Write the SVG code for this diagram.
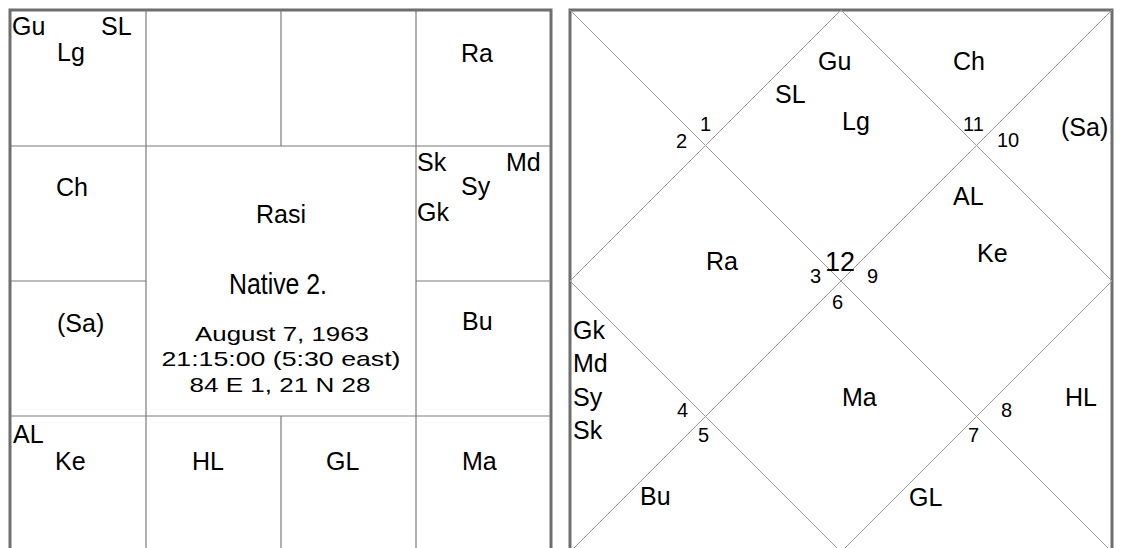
<svg xmlns="http://www.w3.org/2000/svg" width="1122" height="548" viewBox="0 0 1122 548">
<style>
.bg{fill:#ffffff}
.border{fill:none;stroke:#6e6e6e;stroke-width:3}
.grid{stroke:#7a7a7a;stroke-width:1.2;fill:none}
.diag{stroke:#9a9a9a;stroke-width:1;fill:none}
.lbl{font-family:"Liberation Sans",Arial,sans-serif;font-size:25px;fill:#000}
.num{font-family:"Liberation Sans",Arial,sans-serif;font-size:20px;fill:#000}
.big{font-family:"Liberation Sans",Arial,sans-serif;font-size:27px;fill:#000}
.title{font-family:"Liberation Sans",Arial,sans-serif;font-size:25px;fill:#000;text-anchor:middle}
.native{font-family:"Liberation Sans",Arial,sans-serif;font-size:29px;fill:#000;text-anchor:middle}
.info{font-family:"Liberation Sans",Arial,sans-serif;font-size:21px;fill:#000;text-anchor:middle}
</style>
<rect class="bg" x="0" y="0" width="1122" height="548"/>

<!-- Left chart: Rasi (South Indian style) -->
<g id="rasi-chart">
  <g id="rasi-lines">
    <rect class="border" x="10" y="10" width="541" height="542"/>
    <line class="grid" x1="146" y1="10" x2="146" y2="552"/>
    <line class="grid" x1="416" y1="10" x2="416" y2="552"/>
    <line class="grid" x1="281" y1="10" x2="281" y2="146"/>
    <line class="grid" x1="281" y1="416" x2="281" y2="552"/>
    <line class="grid" x1="10" y1="146" x2="551" y2="146"/>
    <line class="grid" x1="10" y1="416" x2="551" y2="416"/>
    <line class="grid" x1="10" y1="281" x2="146" y2="281"/>
    <line class="grid" x1="416" y1="281" x2="551" y2="281"/>
  </g>
  <g id="rasi-pisces">
    <text class="lbl" x="12" y="35">Gu</text>
    <text class="lbl" x="101" y="35">SL</text>
    <text class="lbl" x="57" y="61">Lg</text>
  </g>
  <g id="rasi-aries"/>
  <g id="rasi-taurus"/>
  <g id="rasi-gemini">
    <text class="lbl" x="461" y="62">Ra</text>
  </g>
  <g id="rasi-aquarius">
    <text class="lbl" x="56" y="196">Ch</text>
  </g>
  <g id="rasi-cancer">
    <text class="lbl" x="417" y="171">Sk</text>
    <text class="lbl" x="506" y="171">Md</text>
    <text class="lbl" x="461" y="195">Sy</text>
    <text class="lbl" x="417" y="221">Gk</text>
  </g>
  <g id="rasi-capricorn">
    <text class="lbl" x="57" y="332">(Sa)</text>
  </g>
  <g id="rasi-leo">
    <text class="lbl" x="462" y="330">Bu</text>
  </g>
  <g id="rasi-sagittarius">
    <text class="lbl" x="13" y="443">AL</text>
    <text class="lbl" x="55" y="470">Ke</text>
  </g>
  <g id="rasi-scorpio">
    <text class="lbl" x="192" y="470">HL</text>
  </g>
  <g id="rasi-libra">
    <text class="lbl" x="326" y="470">GL</text>
  </g>
  <g id="rasi-virgo">
    <text class="lbl" x="462" y="470">Ma</text>
  </g>
  <g id="rasi-center">
    <text class="title" x="281" y="223">Rasi</text>
    <text class="native" x="278" y="294" textLength="98" lengthAdjust="spacingAndGlyphs">Native 2.</text>
    <text class="info" x="282" y="341" textLength="174" lengthAdjust="spacingAndGlyphs">August 7, 1963</text>
    <text class="info" x="281" y="366" textLength="239" lengthAdjust="spacingAndGlyphs">21:15:00 (5:30 east)</text>
    <text class="info" x="280" y="392" textLength="181" lengthAdjust="spacingAndGlyphs">84 E 1, 21 N 28</text>
  </g>
</g>

<!-- Right chart: North Indian style -->
<g id="north-chart">
  <g id="north-lines">
    <rect class="border" x="570" y="10" width="542" height="542"/>
    <line class="diag" x1="570" y1="10" x2="1112" y2="552"/>
    <line class="diag" x1="1112" y1="10" x2="570" y2="552"/>
    <polygon class="diag" points="841,10 1112,281 841,552 570,281"/>
  </g>
  <g id="house-1">
    <text class="lbl" x="818" y="70">Gu</text>
    <text class="lbl" x="775" y="103">SL</text>
    <text class="lbl" x="842" y="130">Lg</text>
    <text class="num" x="700" y="131">1</text>
  </g>
  <g id="house-2">
    <text class="num" x="676" y="148">2</text>
  </g>
  <g id="house-11">
    <text class="lbl" x="953" y="70">Ch</text>
    <text class="num" x="963" y="131">11</text>
  </g>
  <g id="house-10">
    <text class="lbl" x="1061" y="136">(Sa)</text>
    <text class="num" x="997" y="147">10</text>
  </g>
  <g id="house-12">
    <text class="lbl" x="953" y="205">AL</text>
    <text class="big" x="825" y="271">12</text>
  </g>
  <g id="house-9">
    <text class="lbl" x="977" y="262">Ke</text>
    <text class="num" x="867" y="283">9</text>
  </g>
  <g id="house-3">
    <text class="lbl" x="706" y="270">Ra</text>
    <text class="num" x="810" y="283">3</text>
  </g>
  <g id="house-6">
    <text class="num" x="832" y="309">6</text>
    <text class="lbl" x="842" y="406">Ma</text>
  </g>
  <g id="house-4">
    <text class="lbl" x="573" y="339">Gk</text>
    <text class="lbl" x="573" y="372">Md</text>
    <text class="lbl" x="573" y="406">Sy</text>
    <text class="lbl" x="573" y="439">Sk</text>
    <text class="num" x="677" y="417">4</text>
  </g>
  <g id="house-5">
    <text class="num" x="698" y="442">5</text>
    <text class="lbl" x="640" y="505">Bu</text>
  </g>
  <g id="house-8">
    <text class="num" x="1001" y="417">8</text>
    <text class="lbl" x="1065" y="406">HL</text>
  </g>
  <g id="house-7">
    <text class="num" x="968" y="442">7</text>
    <text class="lbl" x="909" y="506">GL</text>
  </g>
</g>
</svg>
